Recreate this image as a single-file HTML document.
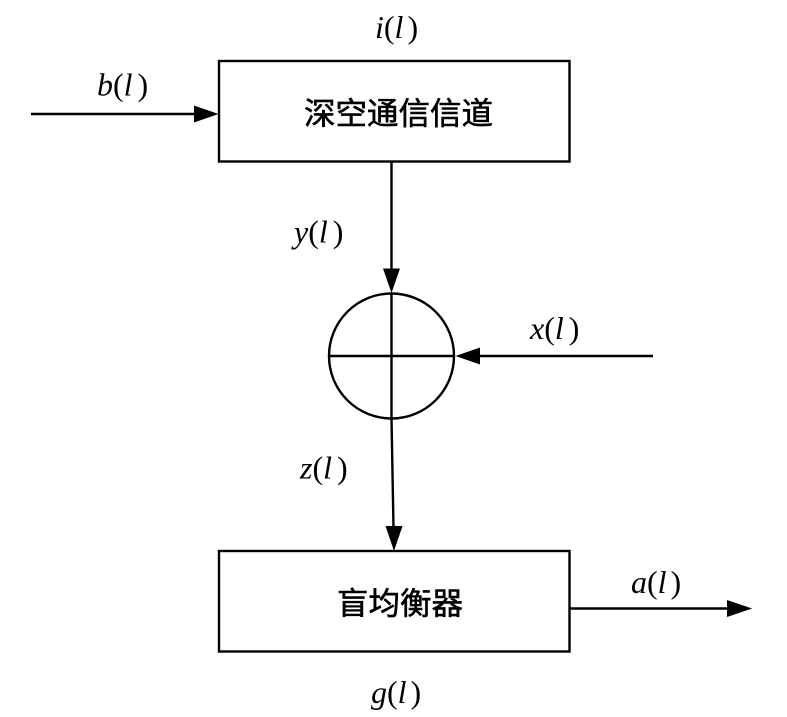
<!DOCTYPE html>
<html>
<head>
<meta charset="utf-8">
<style>
html,body{margin:0;padding:0;background:#fff;width:787px;height:717px;overflow:hidden}
svg{display:block}
.t{font-family:"Liberation Serif",serif;font-size:32px;fill:#000}
.i{font-style:italic}
.c{font-family:"Liberation Sans","Noto Sans CJK SC",sans-serif;font-size:31px;fill:#000;stroke:#000;stroke-width:.6;font-weight:400}
</style>
</head>
<body>
<svg width="787" height="717" viewBox="0 0 787 717" xmlns="http://www.w3.org/2000/svg">
<g fill="none" stroke="#000" stroke-width="2.4">
<rect x="219" y="61" width="350.500" height="100.500"/>
<rect x="219" y="551" width="350.500" height="100.500"/>
<circle cx="391.500" cy="356" r="62.500"/>
<line x1="391.500" y1="161" x2="391.500" y2="272"/>
<line x1="391.500" y1="293" x2="391.500" y2="418"/>
<line x1="329" y1="356" x2="454" y2="356"/>
<line x1="31" y1="114" x2="196" y2="114"/>
<line x1="653" y1="356" x2="478" y2="356"/>
<line x1="391.500" y1="418" x2="393.500" y2="528"/>
<line x1="570" y1="608.500" x2="728" y2="608.500"/>
</g>
<g fill="#000">
<polygon points="218.500,114 194,105.500 194,122.500"/>
<polygon points="391.500,293 383,268.500 400,268.500"/>
<polygon points="455.500,356 480,347.500 480,364.500"/>
<polygon points="394,551 385.500,526 402.500,526"/>
<polygon points="752,608.500 727,600 727,617"/>
</g>
<text class="t" x="375" y="38"><tspan class="i">i</tspan>(<tspan class="i">l</tspan><tspan dx="4">)</tspan></text>
<text class="t" x="97" y="95.500"><tspan class="i">b</tspan>(<tspan class="i">l</tspan><tspan dx="5">)</tspan></text>
<text class="t" x="294" y="242.500"><tspan class="i">y</tspan>(<tspan class="i">l</tspan><tspan dx="5">)</tspan></text>
<text class="t" x="530" y="339"><tspan class="i">x</tspan>(<tspan class="i">l</tspan><tspan dx="5">)</tspan></text>
<text class="t" x="300" y="478.500"><tspan class="i">z</tspan>(<tspan class="i">l</tspan><tspan dx="5">)</tspan></text>
<text class="t" x="631" y="593"><tspan class="i">a</tspan>(<tspan class="i">l</tspan><tspan dx="4">)</tspan></text>
<text class="t" x="371" y="703"><tspan class="i">g</tspan>(<tspan class="i">l</tspan><tspan dx="4">)</tspan></text>
<text class="c" x="304" y="124.500" textLength="189" lengthAdjust="spacingAndGlyphs">深空通信信道</text>
<text class="c" x="337" y="614.500" textLength="126" lengthAdjust="spacingAndGlyphs">盲均衡器</text>
</svg>
</body>
</html>
